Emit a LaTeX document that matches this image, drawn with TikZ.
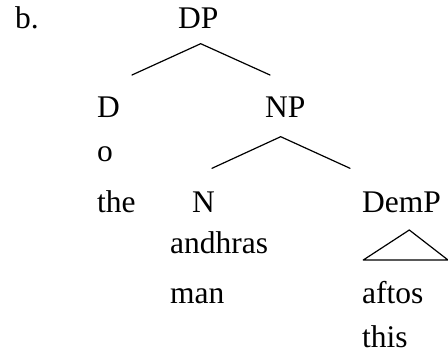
\documentclass[tikz,border=0pt]{standalone}
\usepackage{fontspec}
\setmainfont{Liberation Serif}
\begin{document}
\begin{tikzpicture}[x=1pt,y=-1pt,
  lbl/.style={anchor=base west, inner sep=0pt, font=\fontsize{31.5}{31.5}\selectfont},
  edge/.style={line width=1.2pt, line cap=round}]
\useasboundingbox (0,0) rectangle (448,353);
\node[lbl] (b) at (15,29) {b.};
\node[lbl] (DP) at (178,29) {DP};
\node[lbl] (D) at (97,118) {D};
\node[lbl] (NP) at (265,118) {NP};
\node[lbl] (o) at (97,161) {o};
\node[lbl] (the) at (97,212) {the};
\node[lbl] (N) at (192,212) {N};
\node[lbl] (DemP) at (362,212) {DemP};
\node[lbl] (andhras) at (170,254) {andhras};
\node[lbl] (man) at (170,303) {man};
\node[lbl] (aftos) at (362,303) {aftos};
\node[lbl] (this) at (362,347) {this};
% DP branches
\coordinate (dpTop) at (200.7,43.7);
\coordinate (dpL) at (132,75);
\coordinate (dpR) at (270,75);
\draw[edge] (dpL) -- (dpTop) -- (dpR);
% NP branches
\coordinate (npTop) at (280.7,136.7);
\coordinate (npL) at (212,168.3);
\coordinate (npR) at (350,168.3);
\draw[edge] (npL) -- (npTop) -- (npR);
% DemP triangle
\coordinate (trTop) at (409.3,230);
\coordinate (trL) at (363.3,260);
\coordinate (trR) at (448,260);
\draw[edge] (trL) -- (trTop) -- (trR) (trL) -- (trR);
\end{tikzpicture}
\end{document}
